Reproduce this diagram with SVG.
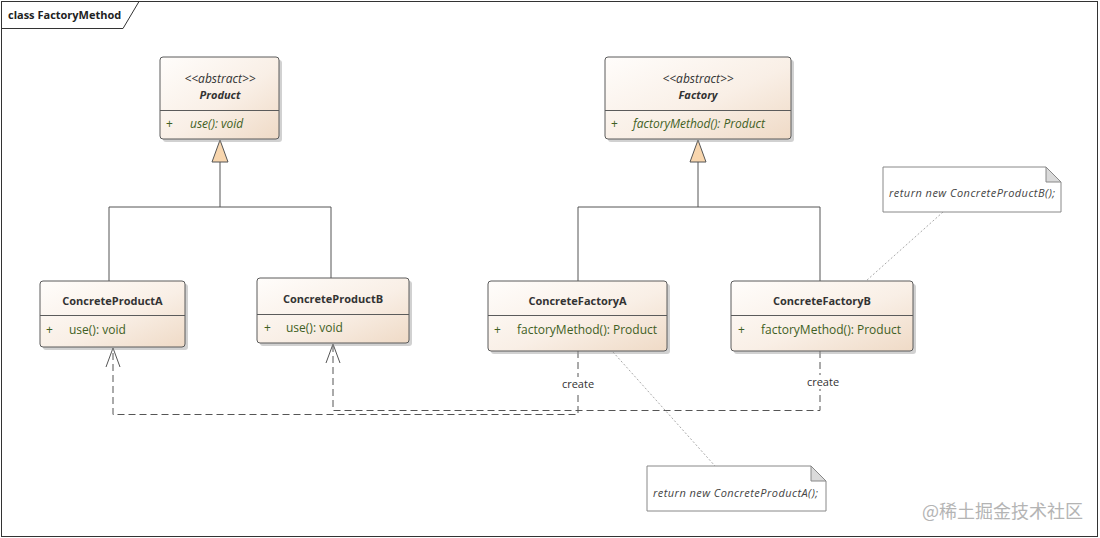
<svg xmlns="http://www.w3.org/2000/svg" width="1100" height="538" viewBox="0 0 1100 538">
<defs>
<linearGradient id="cls" x1="0" y1="0" x2="1" y2="1">
<stop offset="0" stop-color="#fffdfb"/>
<stop offset="0.55" stop-color="#f9efe6"/>
<stop offset="1" stop-color="#efdac6"/>
</linearGradient>
</defs>
<style>
text{font-family:"Open Sans","Noto Sans","Liberation Sans",sans-serif;fill:#333}
.box{fill:url(#cls);stroke:#5b5b5b;stroke-width:1}
.shadow{fill:#9a9a9a;opacity:0.45}
.div{stroke:#5b5b5b;stroke-width:1}
.name{font-size:11px;font-weight:bold;text-anchor:middle}
.stereo{font-size:12px;font-style:italic;text-anchor:middle}
.mem{font-size:12px;fill:#3f5f24}
.it{font-style:italic}
.line{fill:none;stroke:#555;stroke-width:1}
.dash{fill:none;stroke:#555;stroke-width:1;stroke-dasharray:7 4}
.tri{fill:#f8d6ae;stroke:#555;stroke-width:1}
.dot{fill:none;stroke:#aaa;stroke-width:1;stroke-dasharray:2 2}
.note{fill:#fff;stroke:#888;stroke-width:1}
.fold{fill:#dadada;stroke:#888;stroke-width:1}
.ntext{font-size:11px;font-style:italic;fill:#444}
.lbl{font-size:11px;text-anchor:middle;fill:#333}
</style>
<rect x="0" y="0" width="1100" height="538" fill="#fff"/>
<g id="frame">
<rect x="1.5" y="1.5" width="1096" height="535" fill="none" stroke="#333"/>
<path d="M1.5,28.5 H123 L139,1.5" fill="none" stroke="#333"/>
<text x="8" y="19" style="font-size:11px;font-weight:bold;fill:#222">class FactoryMethod</text>
</g>
<g id="connectors">
<path class="line" d="M220,162 V207 M109,207 H331 M109,207 V281 M331,207 V278"/>
<polygon class="tri" points="220,140 212,162 228,162"/>
<path class="line" d="M698,162 V207 M578,207 H820 M578,207 V281 M820,207 V281"/>
<polygon class="tri" points="698,140 690,162 706,162"/>
<path class="dash" d="M578,351 V414.5 H113 V348"/>
<path class="line" d="M106,367 L113,348 L120,367"/>
<path class="dash" d="M820,351 V410.5 H333 V344"/>
<path class="line" d="M326,363 L333,344 L340,363"/>
<rect x="558" y="377" width="40" height="14" fill="#fff"/>
<text class="lbl" x="578" y="388">create</text>
<rect x="803" y="375" width="40" height="14" fill="#fff"/>
<text class="lbl" x="823" y="386">create</text>
<path class="dot" d="M943,212 L866,281"/>
<path class="dot" d="M613,352 L715,466"/>
</g>
<g id="Product">
<rect class="shadow" x="163" y="60" width="119" height="82" rx="3"/>
<rect class="box" x="160" y="57" width="119" height="82" rx="3"/>
<line class="div" x1="160" y1="110.5" x2="279" y2="110.5"/>
<text class="stereo" x="220" y="83">&lt;&lt;abstract&gt;&gt;</text>
<text class="name it" x="220" y="99">Product</text>
<text class="mem" x="166" y="128">+</text>
<text class="mem it" x="190" y="128">use(): void</text>
</g>
<g id="Factory">
<rect class="shadow" x="608" y="60" width="186" height="82" rx="3"/>
<rect class="box" x="605" y="57" width="186" height="82" rx="3"/>
<line class="div" x1="605" y1="110.5" x2="791" y2="110.5"/>
<text class="stereo" x="698" y="83">&lt;&lt;abstract&gt;&gt;</text>
<text class="name it" x="698" y="99">Factory</text>
<text class="mem" x="611" y="128">+</text>
<text class="mem it" x="633" y="128">factoryMethod(): Product</text>
</g>
<g id="ConcreteProductA">
<rect class="shadow" x="43" y="284" width="145" height="66" rx="3"/>
<rect class="box" x="40" y="281" width="145" height="66" rx="3"/>
<line class="div" x1="40" y1="315.5" x2="185" y2="315.5"/>
<text class="name" x="112.5" y="305">ConcreteProductA</text>
<text class="mem" x="46" y="334">+</text>
<text class="mem" x="69" y="334">use(): void</text>
</g>
<g id="ConcreteProductB">
<rect class="shadow" x="260" y="281" width="152" height="65" rx="3"/>
<rect class="box" x="257" y="278" width="152" height="65" rx="3"/>
<line class="div" x1="257" y1="314.5" x2="409" y2="314.5"/>
<text class="name" x="333" y="303">ConcreteProductB</text>
<text class="mem" x="264" y="332">+</text>
<text class="mem" x="286" y="332">use(): void</text>
</g>
<g id="ConcreteFactoryA">
<rect class="shadow" x="491" y="284" width="179" height="70" rx="3"/>
<rect class="box" x="488" y="281" width="179" height="70" rx="3"/>
<line class="div" x1="488" y1="315.5" x2="667" y2="315.5"/>
<text class="name" x="577.5" y="305">ConcreteFactoryA</text>
<text class="mem" x="494" y="334">+</text>
<text class="mem" x="517" y="334">factoryMethod(): Product</text>
</g>
<g id="ConcreteFactoryB">
<rect class="shadow" x="734" y="284" width="182" height="70" rx="3"/>
<rect class="box" x="731" y="281" width="182" height="70" rx="3"/>
<line class="div" x1="731" y1="315.5" x2="913" y2="315.5"/>
<text class="name" x="822" y="305">ConcreteFactoryB</text>
<text class="mem" x="738" y="334">+</text>
<text class="mem" x="761" y="334">factoryMethod(): Product</text>
</g>
<g id="NoteB">
<polygon class="note" points="883,167 1046,167 1061,182 1061,212 883,212"/>
<polygon class="fold" points="1046,167 1046,182 1061,182"/>
<text class="ntext" x="889" y="197" textLength="166" lengthAdjust="spacing">return new ConcreteProductB();</text>
</g>
<g id="NoteA">
<polygon class="note" points="647,466 811,466 826,481 826,511 647,511"/>
<polygon class="fold" points="811,466 811,481 826,481"/>
<text class="ntext" x="653" y="497" textLength="165" lengthAdjust="spacing">return new ConcreteProductA();</text>
</g>
<text x="922" y="518" style="font-family:'Noto Sans CJK SC','Noto Sans',sans-serif;font-size:18px;fill:#b4b4b4">@稀土掘金技术社区</text>
</svg>
